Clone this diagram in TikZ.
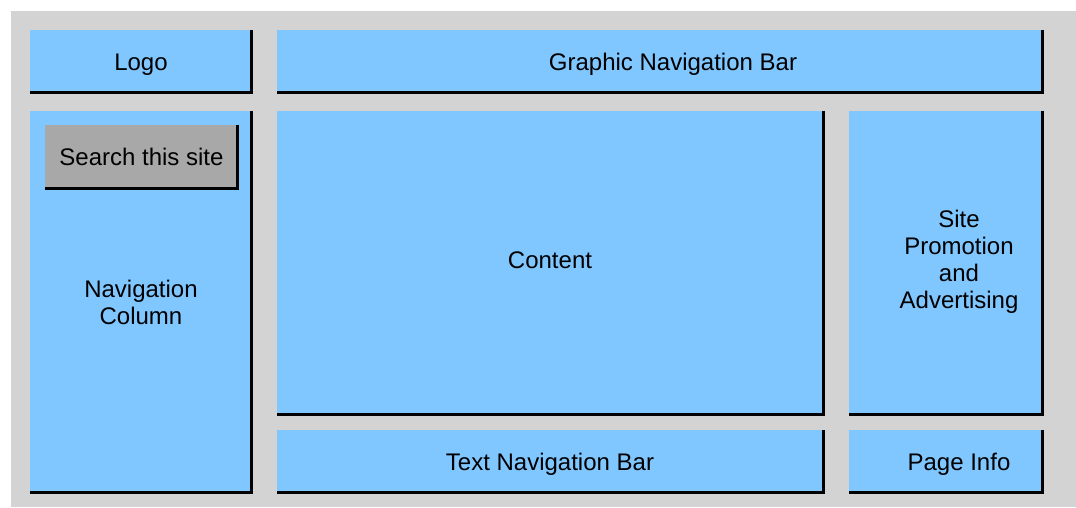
\documentclass[tikz,border=0pt]{standalone}
\usepackage{fontspec}
\setmainfont{Liberation Sans}
\definecolor{boxblue}{RGB}{128,198,255}
\definecolor{bggray}{RGB}{211,211,211}
\definecolor{searchgray}{RGB}{168,168,168}
\begin{document}
\begin{tikzpicture}[x=1pt,y=-1pt,
  panel/.style={fill=boxblue, draw=none, inner sep=0pt},
  searchbox/.style={panel, fill=searchgray},
  txt/.style={inner sep=0pt, align=center, text=black,
    font=\fontsize{24}{27}\selectfont},
  edge/.style={line width=3pt, black}]
\useasboundingbox (0,0) rectangle (1076,507);
\fill[bggray] (11,11) rectangle (1076,507);
% boxes
\node[panel, minimum width=223pt, minimum height=64pt] (logo) at (141.5,62) {};
\node[panel, minimum width=767pt, minimum height=64pt] (gnav) at (660.5,62) {};
\node[panel, minimum width=223pt, minimum height=383pt] (navcol) at (141.5,302.5) {};
\node[searchbox, minimum width=194pt, minimum height=65pt] (search) at (142,157.5) {};
\node[panel, minimum width=548pt, minimum height=305pt] (content) at (551,263.5) {};
\node[panel, minimum width=195pt, minimum height=305pt] (promo) at (946.5,263.5) {};
\node[panel, minimum width=548pt, minimum height=64pt] (tnav) at (551,462) {};
\node[panel, minimum width=195pt, minimum height=64pt] (pinfo) at (946.5,462) {};
% right/bottom edges
\foreach \n in {logo,gnav,navcol,search,content,promo,tnav,pinfo}{
  \draw[edge] ([xshift=-1.5pt]\n.north east) -- ([shift={(-1.5pt,1.5pt)}]\n.south east) -- ([yshift=1.5pt]\n.south west);
}
% texts
\node[txt, anchor=base] (logo-t) at (141,70.5) {Logo};
\node[txt, anchor=base] (gnav-t) at (673,70.5) {Graphic Navigation Bar};
\node[txt, anchor=base] (search-t) at (141.5,165.5) {Search this site};
\node[txt] (navcol-t) at (141,302.5) {Navigation\\Column};
\node[txt, anchor=base] (content-t) at (550,268) {Content};
\node[txt] (promo-t) at (959,262) {Site\\Promotion\\and\\Advertising};
\node[txt, anchor=base] (tnav-t) at (550,470.5) {Text Navigation Bar};
\node[txt, anchor=base] (pinfo-t) at (959,470.5) {Page Info};
\end{tikzpicture}
\end{document}
